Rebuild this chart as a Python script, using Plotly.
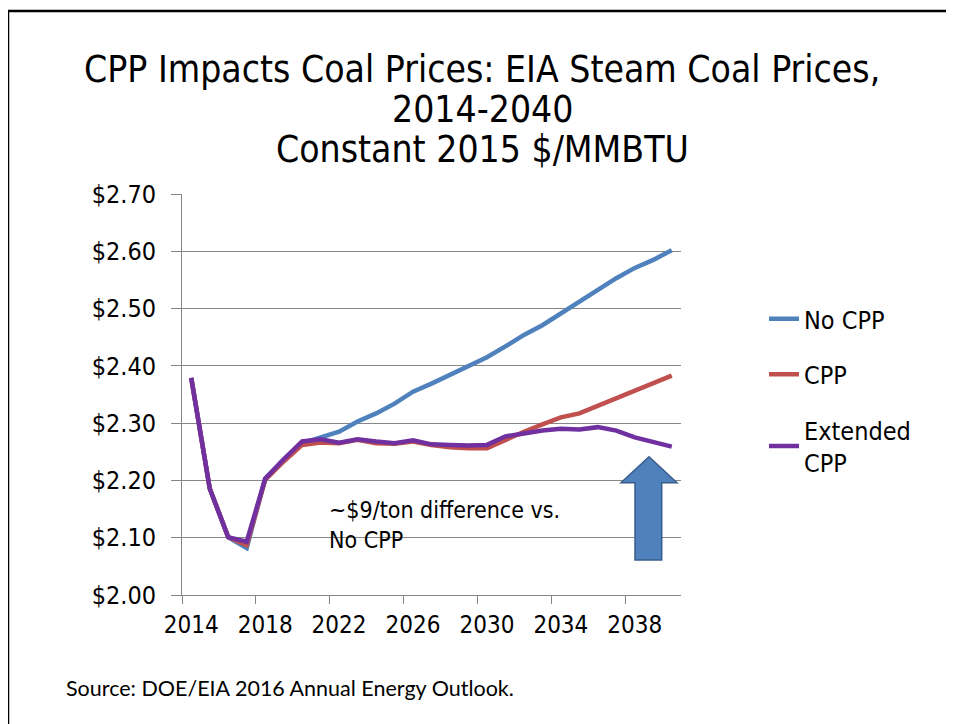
import plotly.graph_objects as go

years = list(range(2014, 2041))
no_cpp = [2.379, 2.186, 2.101, 2.082, 2.203, 2.236, 2.265, 2.274, 2.285, 2.303,
          2.317, 2.334, 2.355, 2.369, 2.384, 2.399, 2.415, 2.434, 2.454, 2.471,
          2.492, 2.511, 2.532, 2.553, 2.571, 2.585, 2.602]
cpp = [2.379, 2.186, 2.101, 2.087, 2.201, 2.233, 2.262, 2.266, 2.265, 2.271,
       2.265, 2.264, 2.268, 2.262, 2.258, 2.256, 2.256, 2.271, 2.285, 2.298,
       2.310, 2.317, 2.330, 2.342, 2.357, 2.370, 2.383]
ext_cpp = [2.379, 2.186, 2.101, 2.093, 2.203, 2.237, 2.268, 2.272, 2.266, 2.272,
           2.268, 2.265, 2.270, 2.263, 2.262, 2.261, 2.262, 2.277, 2.282, 2.287,
           2.290, 2.289, 2.293, 2.287, 2.275, 2.266, 2.259]
tick_years = [2014, 2018, 2022, 2026, 2030, 2034, 2038]
y_ticks = [2.0, 2.1, 2.2, 2.3, 2.4, 2.5, 2.6, 2.7]
title_lines = ["CPP Impacts Coal Prices: EIA Steam Coal Prices,", "2014-2040",
               "Constant 2015 $/MMBTU"]

OFF = 8  # page body margin
W, H = 954 - OFF, 724 - OFF
L, T = 182 - OFF, 194 - OFF
PW, PH = 499, 401
R, B = W - L - PW, H - T - PH


def px(x):  # reference page pixel -> paper
    return (x - OFF - L) / PW


def py(y):
    return (T + PH - (y - OFF)) / PH


TAHOMA = "DejaVu Sans Condensed, DejaVu Sans, sans-serif"

fig = go.Figure()
series = [("No CPP", no_cpp, "#4F81BD"), ("CPP", cpp, "#C0504D"),
          ("Extended<br>CPP", ext_cpp, "#7030A0")]
for i, (name, vals, col) in enumerate(series):
    fig.add_trace(go.Scatter(x=years, y=vals, mode="lines", name=name,
                             legendgroup=f"g{i}",
                             line=dict(color=col, width=4.5)))

# overlay axis for category-boundary tick marks
fig.add_trace(go.Scatter(x=[2013.5, 2040.5], y=[2.0, 2.0], xaxis="x2",
                         mode="lines", line=dict(width=0), showlegend=False,
                         hoverinfo="skip"))

axis_col = "#868686"
fig.update_layout(
    width=W, height=H,
    margin=dict(l=L, r=R, t=T, b=B, pad=0),
    paper_bgcolor="white", plot_bgcolor="white",
    showlegend=True,
    xaxis=dict(range=[2013.5, 2040.5], tickvals=tick_years,
               ticktext=[str(t) for t in tick_years], ticks="",
               showgrid=False, zeroline=False, showline=True,
               linecolor=axis_col, linewidth=1, ticklabelstandoff=8,
               tickfont=dict(family=TAHOMA, size=24, color="black")),
    xaxis2=dict(range=[2013.5, 2040.5], overlaying="x",
                tickvals=[2013.5 + 4 * k for k in range(7)],
                showticklabels=False, ticks="outside", ticklen=8,
                tickcolor=axis_col, showgrid=False, zeroline=False,
                showline=False, side="bottom"),
    yaxis=dict(range=[2.0, 2.7], tickvals=y_ticks, tickformat="$.2f",
               ticks="outside", ticklen=10, tickcolor=axis_col,
               showgrid=True, gridcolor=axis_col, gridwidth=1,
               zeroline=False, showline=True, linecolor=axis_col,
               linewidth=1, ticklabelstandoff=10,
               tickfont=dict(family=TAHOMA, size=25, color="black")),
    legend=dict(x=px(764), y=py(296), xanchor="left", yanchor="top",
                tracegroupgap=20, traceorder="grouped",
                font=dict(family=TAHOMA, size=25, color="black"),
                bgcolor="rgba(0,0,0,0)", itemwidth=30),
)

for txt, yc in zip(title_lines, [70, 110, 150]):
    fig.add_annotation(text=txt, xref="paper", yref="paper", x=px(482),
                       y=py(yc), xanchor="center", yanchor="middle",
                       showarrow=False,
                       font=dict(family=TAHOMA, size=37, color="black"))

fig.add_annotation(text="~$9/ton difference vs.<br>No CPP", xref="paper",
                   yref="paper", x=px(327), y=py(495), xanchor="left",
                   yanchor="top", align="left", showarrow=False,
                   font=dict(family=TAHOMA, size=23, color="black"))

fig.add_annotation(text="Source: DOE/EIA 2016 Annual Energy Outlook.",
                   xref="paper", yref="paper", x=px(64), y=py(688),
                   xanchor="left", yanchor="middle", showarrow=False,
                   font=dict(family="Lato, sans-serif", size=21.5,
                             color="black"))

# slide frame (top and left edges)
fig.add_shape(type="line", xref="paper", yref="paper",
              x0=px(7), y0=py(11), x1=px(960), y1=py(11),
              line=dict(color="black", width=2.5), layer="above")
fig.add_shape(type="line", xref="paper", yref="paper",
              x0=px(8), y0=py(10), x1=px(8), y1=py(740),
              line=dict(color="black", width=2.5), layer="above")

# block arrow
ax = [649, 677, 661.7, 661.7, 635, 635, 621]
ay = [456.7, 482.7, 482.7, 560, 560, 482.7, 482.7]
path = "M " + " L ".join(f"{px(a)},{py(b)}" for a, b in zip(ax, ay)) + " Z"
fig.add_shape(type="path", xref="paper", yref="paper", path=path,
              fillcolor="#4F81BD", line=dict(color="#385D8A", width=1.5))

fig.write_html("out.html")
